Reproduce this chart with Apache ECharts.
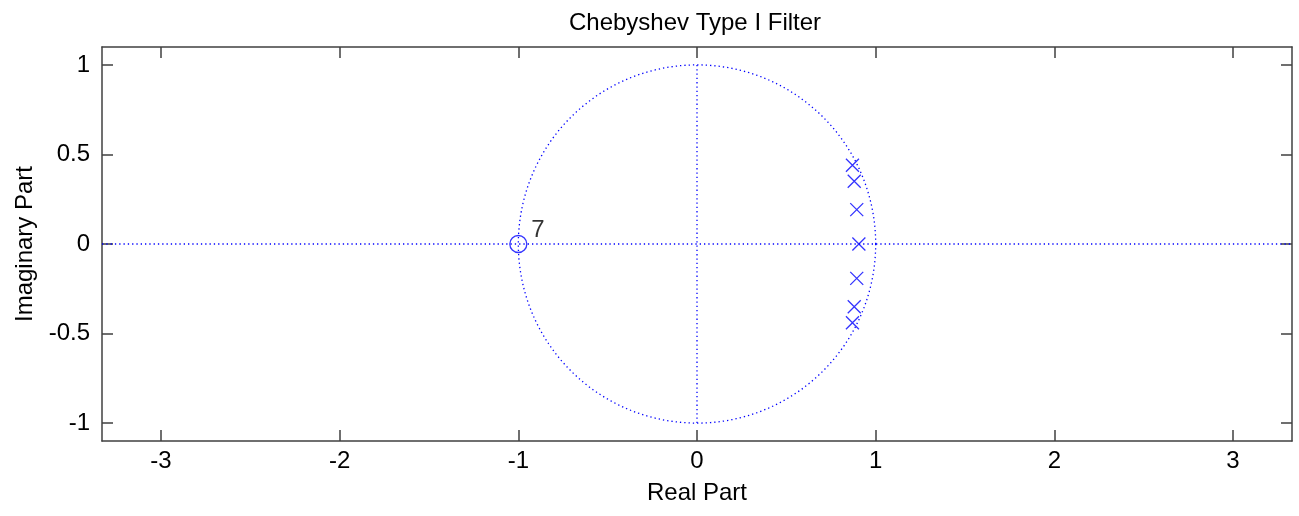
<!DOCTYPE html>
<html>
<head>
<meta charset="utf-8">
<script src="https://cdn.jsdelivr.net/npm/echarts@6/dist/echarts.min.js"></script>
<style>
  html, body { margin: 0; padding: 0; background: #ffffff; }
  #chart { width: 1299px; height: 516px; }
</style>
</head>
<body>
<div id="chart"></div>
<script>
// Pole-zero plot of a 7th-order Chebyshev Type I low-pass filter
const xTicks = [-3, -2, -1, 0, 1, 2, 3];
const yTicks = [-1, -0.5, 0, 0.5, 1];
const xLimits = [-3.33, 3.33];
const yLimits = [-1.1, 1.1];

// poles (x markers)
const poleRe = [0.870, 0.880, 0.894, 0.906, 0.894, 0.880, 0.870];
const poleIm = [0.440, 0.350, 0.192, 0.000, -0.192, -0.350, -0.440];

// zeros (o markers) and their multiplicity
const zeroRe = [-1];
const zeroIm = [0];
const zeroCount = [7];

const unitRadius = 1;

const BLUE = '#0000ff';
const AXIS = '#404040';
const FONT = '"Liberation Sans", Arial, Helvetica, sans-serif';
const DOT = [1.3, 3];

const poles = poleRe.map((re, i) => [re, poleIm[i]]);
const zeros = zeroRe.map((re, i) => [re, zeroIm[i]]);

const chart = echarts.init(document.getElementById('chart'), null, { renderer: 'canvas' });

const baseAxis = {
  type: 'value',
  splitLine: { show: false },
  axisLine: { show: true, onZero: false, lineStyle: { color: AXIS, width: 1.5 } },
  axisTick: { show: true, inside: true, length: 11, lineStyle: { color: AXIS, width: 1.5 } }
};

chart.setOption({
  animation: false,
  backgroundColor: '#ffffff',
  textStyle: { fontFamily: FONT },
  title: {
    text: 'Chebyshev Type I Filter',
    left: 690,
    top: 6,
    textAlign: 'center',
    textStyle: { fontFamily: FONT, fontSize: 24, fontWeight: 'normal', color: '#000' }
  },
  grid: { left: 102, right: 7, top: 47, bottom: 75, containLabel: false },
  xAxis: [
    Object.assign({}, baseAxis, {
      position: 'bottom',
      min: xLimits[0], max: xLimits[1],
      axisTick: Object.assign({}, baseAxis.axisTick, { customValues: xTicks }),
      axisLabel: { customValues: xTicks, fontSize: 24, color: '#000', margin: 8, fontFamily: FONT },
      name: 'Real Part',
      nameLocation: 'middle',
      nameGap: 40,
      nameTextStyle: { fontSize: 24, color: '#000', fontFamily: FONT }
    }),
    Object.assign({}, baseAxis, {
      position: 'top',
      min: xLimits[0], max: xLimits[1],
      axisTick: Object.assign({}, baseAxis.axisTick, { customValues: xTicks }),
      axisLabel: { show: false }
    })
  ],
  yAxis: [
    Object.assign({}, baseAxis, {
      position: 'left',
      min: yLimits[0], max: yLimits[1],
      axisTick: Object.assign({}, baseAxis.axisTick, { customValues: yTicks }),
      axisLabel: { customValues: yTicks, fontSize: 24, color: '#000', margin: 12, fontFamily: FONT },
      name: 'Imaginary Part',
      nameLocation: 'middle',
      nameGap: 60,
      nameRotate: 90,
      nameTextStyle: { fontSize: 24, color: '#000', fontFamily: FONT }
    }),
    Object.assign({}, baseAxis, {
      position: 'right',
      min: yLimits[0], max: yLimits[1],
      axisTick: Object.assign({}, baseAxis.axisTick, { customValues: yTicks }),
      axisLabel: { show: false }
    })
  ],
  series: [
    {
      // unit circle
      type: 'custom',
      xAxisIndex: 0, yAxisIndex: 0,
      silent: true,
      data: [[0, 0]],
      renderItem: function (params, api) {
        const c = api.coord([api.value(0), api.value(1)]);
        const s = api.size([unitRadius, unitRadius]);
        return {
          type: 'path',
          shape: {
            pathData: 'M' + (c[0] + s[0]) + ',' + c[1] +
              'A' + s[0] + ',' + s[1] + ',0,1,1,' + (c[0] - s[0]) + ',' + c[1] +
              'A' + s[0] + ',' + s[1] + ',0,1,1,' + (c[0] + s[0]) + ',' + c[1] + 'Z'
          },
          style: { fill: 'none', stroke: BLUE, lineWidth: 1.3, lineDash: DOT }
        };
      }
    },
    {
      // real axis
      type: 'line',
      xAxisIndex: 0, yAxisIndex: 0,
      silent: true, symbol: 'none',
      data: [[xLimits[0], 0], [xLimits[1], 0]],
      lineStyle: { color: BLUE, width: 1.3, type: DOT }
    },
    {
      // imaginary axis inside the unit circle
      type: 'line',
      xAxisIndex: 0, yAxisIndex: 0,
      silent: true, symbol: 'none',
      data: [[0, -unitRadius], [0, unitRadius]],
      lineStyle: { color: BLUE, width: 1.3, type: DOT }
    },
    {
      name: 'Poles',
      type: 'scatter',
      xAxisIndex: 0, yAxisIndex: 0,
      data: poles,
      symbol: 'path://M0,0L10,10M10,0L0,10',
      symbolSize: 13,
      itemStyle: { color: 'none', borderColor: BLUE, borderWidth: 1.3 }
    },
    {
      name: 'Zeros',
      type: 'scatter',
      xAxisIndex: 0, yAxisIndex: 0,
      data: zeros,
      symbol: 'circle',
      symbolSize: 17,
      itemStyle: { color: 'none', borderColor: BLUE, borderWidth: 1.3 },
      label: {
        show: true,
        position: [24, -15],
        formatter: function (p) { return String(zeroCount[p.dataIndex]); },
        fontSize: 24,
        color: '#000',
        fontFamily: FONT,
        verticalAlign: 'top',
        align: 'left'
      }
    }
  ]
});
</script>
</body>
</html>
